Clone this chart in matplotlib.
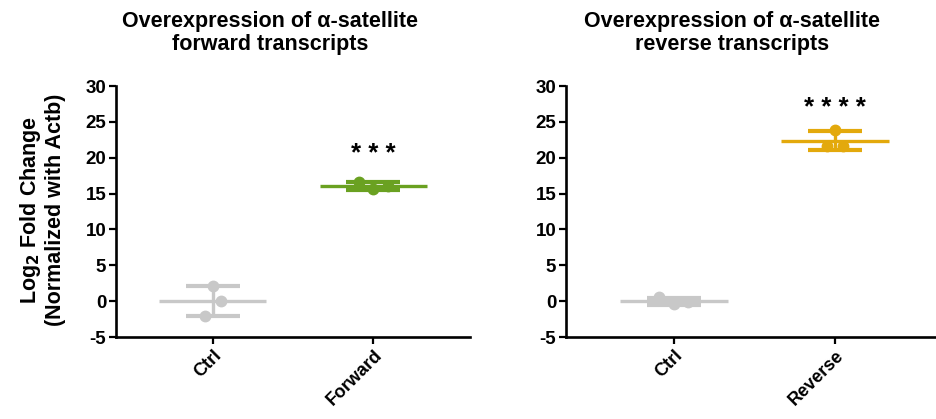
import numpy as np
import matplotlib
matplotlib.use("Agg")
import matplotlib.pyplot as plt

plt.rcParams['font.family'] = ['Liberation Sans', 'DejaVu Sans']
plt.rcParams['font.weight'] = 'bold'
plt.rcParams['axes.unicode_minus'] = False

# values (log2 fold change, 3 replicates each)
fwd_groups = ["Ctrl", "Forward"]
fwd_ctrl = [2.1, 0.0, -2.1]
fwd_treat = [16.6, 15.6, 16.0]

rev_groups = ["Ctrl", "Reverse"]
rev_ctrl = [0.55, -0.45, -0.1]
rev_treat = [23.9, 21.7, 21.6]

fwd_stars = "* * *"
rev_stars = "* * * *"

grey = "#c8c8c8"
green = "#6aa121"
gold = "#e3a90c"

jitter = [0.0, 0.05, -0.05]
jitter_wide = [-0.09, 0.0, 0.09]


def draw_group(ax, x, vals, color, jit):
    vals = np.array(vals)
    m = vals.mean()
    sd = vals.std(ddof=1)
    ax.hlines(m, x - 0.335, x + 0.335, color=color, lw=2.4, zorder=2)
    ax.errorbar(x, m, yerr=sd, color=color, capsize=19.5, capthick=3.0,
                elinewidth=2.4, fmt='none', zorder=2)
    ax.plot(x + np.array(jit), vals, 'o', color=color, ms=7.5, zorder=3)


def style_axes(ax, groups, xlim):
    ax.set_xlim(*xlim)
    ax.set_ylim(-5, 30)
    ax.set_yticks(range(-5, 31, 5))
    ax.set_xticks([0, 1])
    ax.set_xticklabels(groups, rotation=45, ha='right', rotation_mode='anchor',
                       fontsize=13, fontweight='bold')
    for lab in ax.get_yticklabels():
        lab.set_fontsize(13.5)
        lab.set_fontweight('bold')
    for s in ['top', 'right']:
        ax.spines[s].set_visible(False)
    for s in ['left', 'bottom']:
        ax.spines[s].set_linewidth(1.9)
    ax.tick_params(axis='both', width=1.6, length=5, pad=2)


fig = plt.figure(figsize=(9.36, 4.19), dpi=100)
ax1 = fig.add_axes([116 / 936, 82 / 419, 354 / 936, 251 / 419])
ax2 = fig.add_axes([566 / 936, 82 / 419, 370 / 936, 251 / 419])

draw_group(ax1, 0, fwd_ctrl, grey, jitter)
draw_group(ax1, 1, fwd_treat, green, jitter_wide)
style_axes(ax1, fwd_groups, (-0.6, 1.6))
ax1.text(1, 20.5, fwd_stars, ha='center', va='center', fontsize=18.5)

draw_group(ax2, 0, rev_ctrl, grey, jitter_wide)
draw_group(ax2, 1, rev_treat, gold, jitter)
style_axes(ax2, rev_groups, (-0.67, 1.628))
ax2.text(1, 26.9, rev_stars, ha='center', va='center', fontsize=18.5)

fig.text(270 / 936, 1 - 33 / 419, "Overexpression of α-satellite\nforward transcripts",
         ha='center', va='center', fontsize=15.5, fontweight='bold', linespacing=1.1)
fig.text(732 / 936, 1 - 33 / 419, "Overexpression of α-satellite\nreverse transcripts",
         ha='center', va='center', fontsize=15.5, fontweight='bold', linespacing=1.1)

fig.text(42 / 936, 1 - 210 / 419, "Log$_\\mathbf{2}$ Fold Change\n(Normalized with Actb)",
         ha='center', va='center', rotation=90, fontsize=15.5, fontweight='bold',
         linespacing=1.1)

fig.savefig("out.png", dpi=100)
